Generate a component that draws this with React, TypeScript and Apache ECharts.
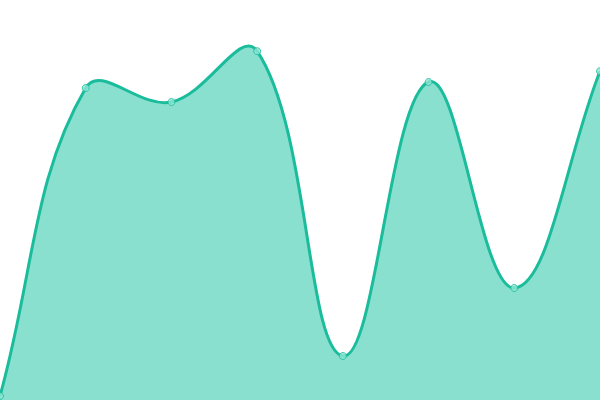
import { useEffect, useRef } from "react";
import * as echarts from "echarts";

const categories = ["A", "B", "C", "D", "E", "F", "G", "H"];
const values = [1, 78, 74.5, 87.2, 11, 79.5, 28, 82.2];

const TENSION = 0.4; // spline tension, curve may overshoot like the reference

// builds the smooth path through the points, control points by segment length ratio
function splinePath(pts: number[][]) {
  const cps = pts.map((p, i) => {
    const prev = pts[i - 1] || p;
    const next = pts[i + 1] || p;
    const d01 = Math.hypot(p[0] - prev[0], p[1] - prev[1]);
    const d12 = Math.hypot(next[0] - p[0], next[1] - p[1]);
    const sum = d01 + d12 || 1;
    const fa = (TENSION * d01) / sum;
    const fb = (TENSION * d12) / sum;
    return {
      prev: [p[0] - fa * (next[0] - prev[0]), p[1] - fa * (next[1] - prev[1])],
      next: [p[0] + fb * (next[0] - prev[0]), p[1] + fb * (next[1] - prev[1])],
    };
  });
  let d = `M${pts[0][0]},${pts[0][1]}`;
  for (let i = 1; i < pts.length; i++) {
    const a = cps[i - 1].next, b = cps[i].prev, p = pts[i];
    d += ` C${a[0]},${a[1]} ${b[0]},${b[1]} ${p[0]},${p[1]}`;
  }
  return d;
}

export default function App() {
  const elRef = useRef<HTMLDivElement>(null);

  useEffect(() => {
    document.body.style.margin = "0";
    if (!elRef.current) return;
    const chart = echarts.init(elRef.current, undefined, { renderer: "svg" });
    chart.setOption({
      animation: false,
      grid: { left: 0, right: 0, top: 0, bottom: 0 },
      xAxis: { type: "category", data: categories, boundaryGap: false, show: false },
      yAxis: { type: "value", min: 0, max: 100, show: false },
      series: [
        {
          type: "custom",
          data: values.map((v, i) => [i, v]),
          silent: true,
          renderItem: (params: any, api: any) => {
            if (params.dataIndex !== 0) return null;
            const pts = values.map((v, i) => api.coord([i, v]));
            const line = splinePath(pts);
            const base = api.coord([0, 0])[1];
            const last = pts[pts.length - 1];
            const area = `${line} L${last[0]},${base} L${pts[0][0]},${base} Z`;
            return {
              type: "group",
              children: [
                { type: "path", shape: { pathData: area }, style: { fill: "#8ae0cf", stroke: "none" } },
                { type: "path", shape: { pathData: line }, style: { fill: "none", stroke: "#1abc9c", lineWidth: 3 } },
              ],
            };
          },
        },
        {
          type: "scatter",
          data: values,
          symbol: "circle",
          symbolSize: 7,
          silent: true,
          itemStyle: { color: "#8fe6d4", borderColor: "#1abc9c", borderWidth: 1 },
          z: 3,
        },
      ],
    });
    return () => chart.dispose();
  }, []);

  return <div ref={elRef} style={{ width: 600, height: 400 }} />;
}
